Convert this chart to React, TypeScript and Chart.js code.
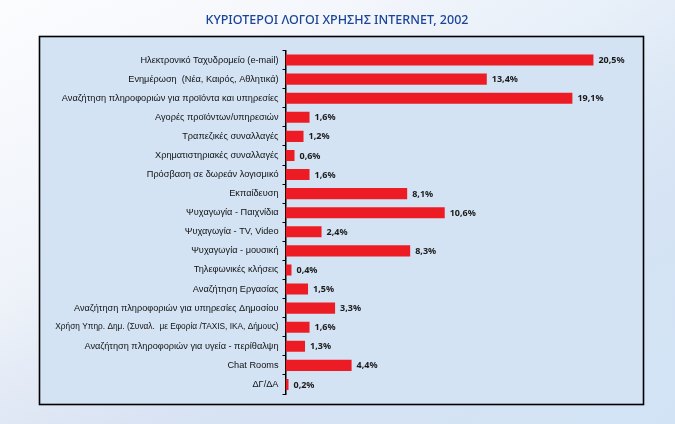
import React, { useEffect, useRef } from "react";
import { Chart, registerables } from "chart.js";
Chart.register(...registerables);

const TITLE = "ΚΥΡΙΟΤΕΡΟΙ ΛΟΓΟΙ ΧΡΗΣΗΣ INTERNET, 2002";

const categories = [
  "Ηλεκτρονικό Ταχυδρομείο (e-mail)",
  "Ενημέρωση  (Νέα, Καιρός, Αθλητικά)",
  "Αναζήτηση πληροφοριών για προϊόντα και υπηρεσίες",
  "Αγορές προϊόντων/υπηρεσιών",
  "Τραπεζικές συναλλαγές",
  "Χρηματιστηριακές συναλλαγές",
  "Πρόσβαση σε δωρεάν λογισμικό",
  "Εκπαίδευση",
  "Ψυχαγωγία - Παιχνίδια",
  "Ψυχαγωγία - TV, Video",
  "Ψυχαγωγία - μουσική",
  "Τηλεφωνικές κλήσεις",
  "Αναζήτηση Εργασίας",
  "Αναζήτηση πληροφοριών για υπηρεσίες Δημοσίου",
  "Χρήση Υπηρ. Δημ. (Συναλ.  με Εφορία /TAXIS, ΙΚΑ, Δήμους)",
  "Αναζήτηση πληροφοριών για υγεία - περίθαλψη",
  "Chat Rooms",
  "ΔΓ/ΔΑ",
];

const values = [20.5, 13.4, 19.1, 1.6, 1.2, 0.6, 1.6, 8.1, 10.6, 2.4, 8.3, 0.4, 1.5, 3.3, 1.6, 1.3, 4.4, 0.2];

const FONT = "'Noto Sans', 'DejaVu Sans', sans-serif";
const LABEL_FONT = "'Liberation Sans', Arial, sans-serif";

const bgPlugin = {
  id: "bgPlugin",
  beforeDraw(chart: any) {
    const { ctx, width, height } = chart;
    ctx.save();
    const g = ctx.createLinearGradient(0, 0, width * 0.3, height);
    g.addColorStop(0, "#fbfcfe");
    g.addColorStop(0.6, "#eef2f9");
    g.addColorStop(1, "#d9dff0");
    ctx.fillStyle = g;
    ctx.fillRect(0, 0, width, height);
    const g2 = ctx.createLinearGradient(width * 0.5, 0, width, height);
    g2.addColorStop(0, "rgba(215,232,247,0)");
    g2.addColorStop(1, "rgba(208,228,246,0.9)");
    ctx.fillStyle = g2;
    ctx.fillRect(0, 0, width, height);
    // box
    ctx.fillStyle = "#d3e3f4";
    ctx.fillRect(39.5, 36.5, 604, 368);
    ctx.lineWidth = 1.6;
    ctx.strokeStyle = "#000";
    ctx.strokeRect(39.5, 36.5, 604, 368);
    // title
    ctx.fillStyle = "#1a4499";
    ctx.font = `500 13px ${FONT}`;
    ctx.textAlign = "center";
    ctx.textBaseline = "middle";
    const w = ctx.measureText(TITLE).width;
    const target = 263;
    ctx.translate(337, 20);
    ctx.scale(target / w, 1);
    ctx.fillText(TITLE, 0, 0);
    ctx.restore();
  },
};

const labelPlugin = {
  id: "labelPlugin",
  afterDatasetsDraw(chart: any) {
    const { ctx } = chart;
    const meta = chart.getDatasetMeta(0);
    ctx.save();
    ctx.font = `bold 9px ${FONT}`;
    ctx.fillStyle = "#1a1a1a";
    ctx.textAlign = "left";
    ctx.textBaseline = "middle";
    meta.data.forEach((bar: any, i: number) => {
      const txt = values[i].toFixed(1).replace(".", ",") + "%";
      ctx.fillText(txt, bar.x + 5, bar.y + 0.5);
    });
    ctx.restore();
  },
};

export default function App() {
  const ref = useRef<HTMLCanvasElement | null>(null);
  useEffect(() => {
    document.body.style.margin = "0";
    const chart = new Chart(ref.current as HTMLCanvasElement, {
      type: "bar",
      data: {
        labels: categories,
        datasets: [
          {
            data: values,
            backgroundColor: "#ed1c24",
            borderWidth: 0,
            barPercentage: 0.58,
            categoryPercentage: 1,
          },
        ],
      },
      plugins: [bgPlugin, labelPlugin],
      options: {
        indexAxis: "y",
        animation: false,
        responsive: false,
        layout: { padding: { left: 0, right: 32, top: 50.5, bottom: 30 } },
        plugins: { legend: { display: false }, tooltip: { enabled: false } },
        scales: {
          x: { display: false, min: 0, max: 23.8 },
          y: {
            afterFit(scale: any) {
              scale.width = 285.5;
            },
            border: { display: true, color: "#000", width: 1.5 },
            grid: {
              drawOnChartArea: false,
              drawTicks: true,
              tickLength: 3,
              color: "#000",
              lineWidth: 1,
            },
            ticks: {
              color: "#111",
              font: (c: any) => ({
                family: LABEL_FONT,
                size: String(categories[c.index] || "").length > 50 ? 8.3 : 9.2,
              }),
              padding: 4,
              autoSkip: false,
            },
          },
        },
      },
    });
    return () => chart.destroy();
  }, []);
  return (
    <div style={{ width: 675, height: 424 }}>
      <canvas ref={ref} width={675} height={424} style={{ display: "block", width: 675, height: 424 }} />
    </div>
  );
}
